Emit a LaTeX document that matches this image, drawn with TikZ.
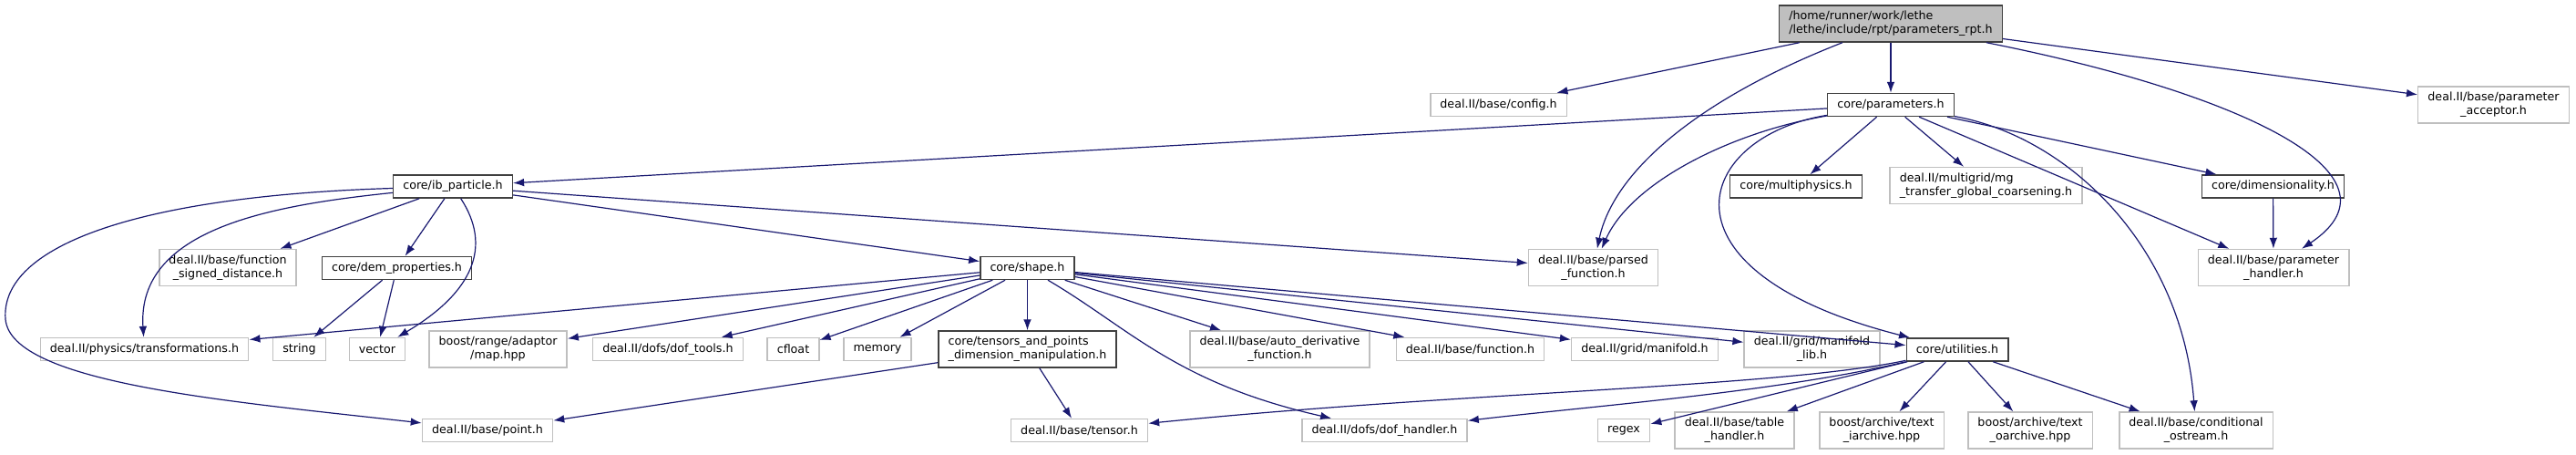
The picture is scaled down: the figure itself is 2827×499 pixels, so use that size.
\documentclass[tikz,border=0pt]{standalone}
\usepackage{fontspec}
\setmainfont{DejaVu Sans}
\usetikzlibrary{arrows.meta}
\definecolor{edgeblue}{HTML}{191970}
\definecolor{extgray}{HTML}{BFBFBF}
\definecolor{docline}{HTML}{404040}

\tikzset{
  hfile/.style={draw=docline, line width=1.1pt, fill=white, inner xsep=8pt, inner ysep=2pt,
    minimum height=18.75pt, font=\fontsize{9.5}{11.25}\selectfont, align=center},
  extfile/.style={hfile, draw=extgray},
  rootfile/.style={hfile, fill=extgray, align=left},
  twoline/.style={minimum height=30pt},
  incl/.style={draw=edgeblue, line width=0.9pt, -{Latex[length=9pt,width=6.5pt]}}
}

\begin{document}
\begin{tikzpicture}[x=0.75pt, y=-0.75pt]
  \useasboundingbox (0,0) rectangle (2827,499);

  \node[rootfile, twoline] (root) at (2075,26) {/home/runner/work/lethe\\/lethe/include/rpt/parameters\_rpt.h};
  \node[extfile] (config) at (1644.5,115) {deal.II/base/config.h};
  \node[hfile] (parameters) at (2075,115) {core/parameters.h};
  \node[extfile, twoline] (acceptor) at (2736.5,115) {deal.II/base/parameter\\\_acceptor.h};

  \node[hfile] (ibpart) at (497,204.5) {core/ib\_particle.h};
  \node[hfile] (multiphys) at (1971,204.5) {core/multiphysics.h};
  \node[extfile, twoline, align=left] (mgtransfer) at (2179.5,203.5) {deal.II/multigrid/mg\\\_transfer\_global\_coarsening.h};
  \node[hfile] (dimens) at (2494.5,204.5) {core/dimensionality.h};

  \node[extfile, twoline] (signeddist) at (250,293.5) {deal.II/base/function\\\_signed\_distance.h};
  \node[hfile] (demprop) at (435.5,294) {core/dem\_properties.h};
  \node[hfile] (shape) at (1127.5,294) {core/shape.h};
  \node[extfile, twoline] (parsedfn) at (1748.5,293.5) {deal.II/base/parsed\\\_function.h};
  \node[extfile, twoline] (paramhandler) at (2495,293.5) {deal.II/base/parameter\\\_handler.h};

  \node[extfile] (transf) at (158.5,383) {deal.II/physics/transformations.h};
  \node[extfile] (string) at (328.5,383) {string};
  \node[extfile] (vector) at (414,383) {vector};
  \node[extfile, twoline] (mapadapt) at (546.5,383) {boost/range/adaptor\\/map.hpp};
  \node[extfile] (doftools) at (733,383) {deal.II/dofs/dof\_tools.h};
  \node[extfile] (cfloat) at (870.5,383) {cfloat};
  \node[extfile] (memory) at (963,383) {memory};
  \node[hfile, twoline, align=left] (tensorspts) at (1127.5,383) {core/tensors\_and\_points\\\_dimension\_manipulation.h};
  \node[extfile, twoline] (autoderiv) at (1404.5,383) {deal.II/base/auto\_derivative\\\_function.h};
  \node[extfile] (function) at (1613.5,383) {deal.II/base/function.h};
  \node[extfile] (manifold) at (1805,383) {deal.II/grid/manifold.h};
  \node[extfile, twoline] (manifoldlib) at (1988.5,383) {deal.II/grid/manifold\\\_lib.h};
  \node[hfile] (utilities) at (2148,383.5) {core/utilities.h};

  \node[extfile] (point) at (535,472) {deal.II/base/point.h};
  \node[extfile] (tensor) at (1184.5,472) {deal.II/base/tensor.h};
  \node[extfile] (dofhandler) at (1519.5,472) {deal.II/dofs/dof\_handler.h};
  \node[extfile] (regex) at (1782,472) {regex};
  \node[extfile, twoline] (tablehandler) at (1903.5,472) {deal.II/base/table\\\_handler.h};
  \node[extfile, twoline] (iarchive) at (2065,472) {boost/archive/text\\\_iarchive.hpp};
  \node[extfile, twoline] (oarchive) at (2228,472) {boost/archive/text\\\_oarchive.hpp};
  \node[extfile, twoline] (condostream) at (2410,472) {deal.II/base/conditional\\\_ostream.h};

  \draw[incl] (root) -- (config);
  \draw[incl] (root) -- (parameters);
  \draw[incl] (root) -- (acceptor);
  \draw[incl] (root) .. controls (1860,110) and (1770,190) .. (parsedfn);
  \draw[incl] (root) .. controls (2450,100) and (2650,190) .. (paramhandler);

  \draw[incl] (parameters) -- (ibpart);
  \draw[incl] (parameters) .. controls (1900,145) and (1790,200) .. (parsedfn);
  \draw[incl] (parameters) .. controls (1860,150) and (1808,297) .. (utilities);
  \draw[incl] (parameters) -- (multiphys);
  \draw[incl] (parameters) -- (mgtransfer);
  \draw[incl] (parameters) -- (dimens);
  \draw[incl] (parameters) -- (paramhandler);
  \draw[incl] (parameters) .. controls (2270,150) and (2395,270) .. (condostream);
  \draw[incl] (dimens) -- (paramhandler);

  \draw[incl] (ibpart) .. controls (300,225) and (150,250) .. (transf);
  \draw[incl] (ibpart) .. controls (150,215) and (0,270) .. (6,350) .. controls (12,420) and (250,440) .. (point);
  \draw[incl] (ibpart) -- (signeddist);
  \draw[incl] (ibpart) -- (demprop);
  \draw[incl] (ibpart) .. controls (540,270) and (520,320) .. (vector);
  \draw[incl] (ibpart) -- (parsedfn);
  \draw[incl] (ibpart) -- (shape);

  \draw[incl] (demprop) -- (string);
  \draw[incl] (demprop) -- (vector);

  \draw[incl] (shape) -- (transf);
  \draw[incl] (shape) -- (mapadapt);
  \draw[incl] (shape) -- (doftools);
  \draw[incl] (shape) -- (cfloat);
  \draw[incl] (shape) -- (memory);
  \draw[incl] (shape) -- (tensorspts);
  \draw[incl] (shape) .. controls (1240,360) and (1290,420) .. (dofhandler);
  \draw[incl] (shape) -- (autoderiv);
  \draw[incl] (shape) -- (function);
  \draw[incl] (shape) -- (manifold);
  \draw[incl] (shape) -- (manifoldlib);
  \draw[incl] (shape) -- (utilities);

  \draw[incl] (tensorspts) -- (tensor);
  \draw[incl] (tensorspts) -- (point);

  \draw[incl] (utilities) .. controls (1950,425) and (1600,430) .. (tensor);
  \draw[incl] (utilities) .. controls (1950,430) and (1750,445) .. (dofhandler);
  \draw[incl] (utilities) -- (regex);
  \draw[incl] (utilities) -- (tablehandler);
  \draw[incl] (utilities) -- (iarchive);
  \draw[incl] (utilities) -- (oarchive);
  \draw[incl] (utilities) -- (condostream);
\end{tikzpicture}
\end{document}
